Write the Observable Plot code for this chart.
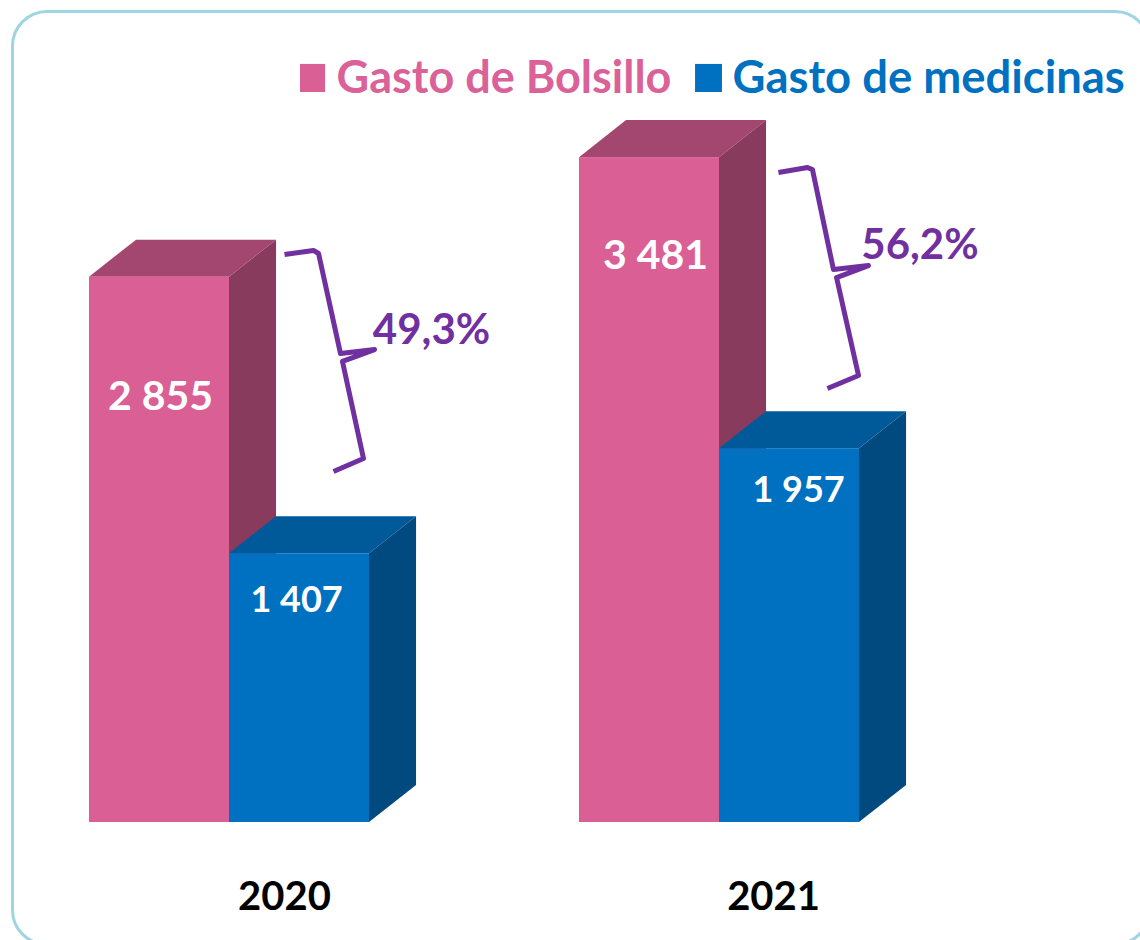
<!DOCTYPE html>
<html lang="es">
<head>
<meta charset="utf-8">
<script src="https://cdn.jsdelivr.net/npm/d3@7"></script>
<script src="https://cdn.jsdelivr.net/npm/@observablehq/plot@0.6"></script>
<style>
html,body{margin:0;padding:0;background:#fff;overflow:hidden;width:1140px;height:940px}
#card{position:absolute;left:11px;top:10px;width:1140px;height:936px;box-sizing:border-box;border:3px solid #9FD5E2;border-radius:36px}
#chart{position:absolute;left:0;top:0}
svg{display:block;background:transparent!important}
</style>
</head>
<body>
<div id="card"></div>
<div id="chart"></div>
<script>
const years = ["2020", "2021"];
const seriesNames = ["Gasto de Bolsillo", "Gasto de medicinas"];
const bolsillo = [2855, 3481];
const medicinas = [1407, 1957];
const shares = ["49,3%", "56,2%"];
const frontColors = ["#D95F94", "#0070C1"];
const topColors = ["#A34670", "#005A99"];
const sideColors = ["#893B5E", "#004A80"];
const textColors = ["#DA6298", "#0070C1"];
const purple = "#7030A0";

// layout, in scale units (x: bar widths, y: the value scale)
const groupStep = 3.5, depthX = 0.336, depthY = 194;
const valueLabelX = [[0.507, 4.043], [1.479, 5.065]];
const valueLabelY = [[2230, 2969], [1162, 1738]];
const valueLabelSize = [41, 36];
const yearLabelX = [1.393, 4.886], yearLabelY = -392;
const shareLabelX = [2.443, 5.932], shareLabelY = [2575, 3020];
const legendBoxX1 = [1.507, 4.329], legendBoxX2 = [1.686, 4.521];
const legendBoxY1 = 3822, legendBoxY2 = 3969;
const legendTextX = [1.765, 4.593], legendTextY = 3895;
const legendTextSize = [45, 45.4];
const brace2020X = [1.393, 1.6, 1.636, 1.793, 2.036, 1.807, 1.957, 1.743];
const brace2020Y = [2974, 2995, 2979, 2455, 2476, 2414, 1906, 1838];
const brace2021X = [4.921, 5.129, 5.164, 5.314, 5.564, 5.336, 5.493, 5.271];
const brace2021Y = [3403, 3429, 3419, 2895, 2916, 2853, 2340, 2272];

const font = "Lato, Carlito, Calibri, sans-serif";
const values = [bolsillo, medicinas];

const marks = [];
// bars, series by series so each box paints over the one to its left
values.forEach((vals, s) => {
  const bars = vals.map((v, g) => ({x1: g * groupStep + s, x2: g * groupStep + s + 1, v, id: g}));
  const topFace = bars.flatMap(b => [
    {id: b.id, y: b.v, x1: b.x1, x2: b.x2},
    {id: b.id, y: b.v + depthY, x1: b.x1 + depthX, x2: b.x2 + depthX}
  ]);
  const sideFace = bars.flatMap(b => [
    {id: b.id, x: b.x2, y1: 0, y2: b.v},
    {id: b.id, x: b.x2 + depthX, y1: depthY, y2: b.v + depthY}
  ]);
  marks.push(
    Plot.areaX(topFace, {y: "y", x1: "x1", x2: "x2", z: "id", fill: topColors[s], curve: "linear"}),
    Plot.areaY(sideFace, {x: "x", y1: "y1", y2: "y2", z: "id", fill: sideColors[s], curve: "linear"}),
    Plot.rect(bars, {x1: "x1", x2: "x2", y1: 0, y2: "v", fill: frontColors[s]})
  );
});
// value labels
values.forEach((vals, s) => {
  marks.push(Plot.text(vals, {
    x: (_, g) => valueLabelX[s][g],
    y: (_, g) => valueLabelY[s][g],
    text: v => d3.format("d")(v).replace(/(\d)(\d{3})$/, "$1 $2"),
    fill: "#fff", fontSize: valueLabelSize[s], fontWeight: 700, fontFamily: font
  }));
});
// year labels
marks.push(Plot.text(years, {
  x: (_, g) => yearLabelX[g], y: () => yearLabelY, text: d => d,
  fill: "#000", fontSize: 40, fontWeight: 700, fontFamily: font
}));
// braces and shares
[[brace2020X, brace2020Y], [brace2021X, brace2021Y]].forEach(([bx, by]) => {
  marks.push(Plot.line(bx.map((x, i) => ({x, y: by[i]})), {
    x: "x", y: "y", stroke: purple, strokeWidth: 5, strokeLinejoin: "round", strokeLinecap: "butt", curve: "linear"
  }));
});
marks.push(Plot.text(shares, {
  x: (_, g) => shareLabelX[g], y: (_, g) => shareLabelY[g], text: d => d,
  fill: purple, fontSize: 42, fontWeight: 700, fontFamily: font
}));
// legend
seriesNames.forEach((name, s) => {
  marks.push(
    Plot.rect([name], {x1: () => legendBoxX1[s], x2: () => legendBoxX2[s], y1: legendBoxY1, y2: legendBoxY2, fill: frontColors[s]}),
    Plot.text([name], {x: () => legendTextX[s], y: legendTextY, text: d => d, textAnchor: "start",
      fill: textColors[s], fontSize: legendTextSize[s], fontWeight: 700, fontFamily: font})
  );
});

const chart = Plot.plot({
  width: 1140, height: 940,
  marginTop: 0, marginRight: 0, marginBottom: 0, marginLeft: 0,
  style: {background: "transparent"},
  x: {axis: null, domain: [-89 / 140, (1140 - 89) / 140], range: [0, 1140]},
  y: {axis: null, domain: [-118 / 0.191, 822 / 0.191], range: [940, 0]},
  marks
});
document.getElementById("chart").appendChild(chart);
</script>
</body>
</html>
